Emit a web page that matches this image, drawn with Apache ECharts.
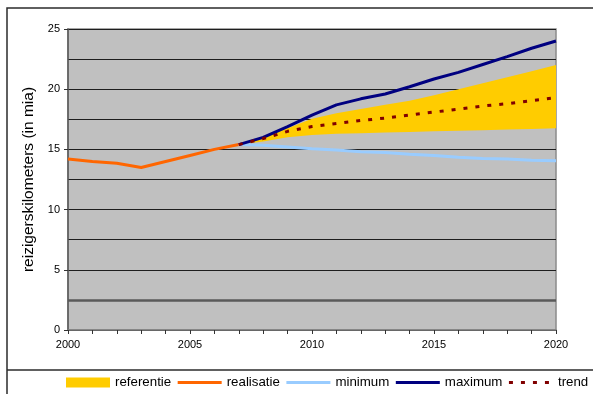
<!DOCTYPE html>
<html>
<head>
<meta charset="utf-8">
<script src="https://cdn.jsdelivr.net/npm/echarts@6/dist/echarts.min.js"></script>
<style>
html,body{margin:0;padding:0;background:#fff;}
#chart{width:593px;height:394px;}
</style>
</head>
<body>
<div id="chart"></div>
<script>
var years = ['2000','2001','2002','2003','2004','2005','2006','2007','2008','2009','2010','2011','2012','2013','2014','2015','2016','2017','2018','2019','2020'];
var realisatie = [14.2, 14.0, 13.85, 13.5, 14.0, 14.5, 15.0, 15.4, null, null, null, null, null, null, null, null, null, null, null, null, null];
var minimum = [null, null, null, null, null, null, null, 15.4, 15.35, 15.2, 15.05, 14.95, 14.8, 14.75, 14.6, 14.5, 14.35, 14.25, 14.2, 14.1, 14.05];
var maximum = [null, null, null, null, null, null, null, 15.4, 16.0, 16.9, 17.85, 18.7, 19.2, 19.6, 20.2, 20.85, 21.4, 22.05, 22.7, 23.4, 24.0];
var trend = [null, null, null, null, null, null, null, 15.4, 15.9, 16.5, 16.9, 17.15, 17.4, 17.6, 17.85, 18.1, 18.35, 18.6, 18.8, 19.05, 19.3];
var refLow = [null, null, null, null, null, null, null, 15.4, 15.65, 16.0, 16.2, 16.3, 16.35, 16.4, 16.45, 16.5, 16.55, 16.6, 16.65, 16.7, 16.75];
var refHigh = [null, null, null, null, null, null, null, 15.4, 16.05, 16.75, 17.55, 18.0, 18.35, 18.7, 19.05, 19.5, 20.0, 20.5, 21.0, 21.5, 22.0];
var yTicks = [0, 5, 10, 15, 20, 25];
var emphasisLines = [2.5];
var legendNames = ['referentie', 'realisatie', 'minimum', 'maximum', 'trend'];
var yTitle = 'reizigerskilometers (in mia)';

var refBand = refHigh.map(function (v, i) { return (v == null || refLow[i] == null) ? null : +(v - refLow[i]).toFixed(3); });

var FONT = '"Liberation Sans", Arial, sans-serif';
var chart = echarts.init(document.getElementById('chart'), null, {renderer: 'canvas'});

function lineLegend(name) { return {name: name, itemStyle: {opacity: 0}}; }

var option = {
  animation: false,
  backgroundColor: '#ffffff',
  textStyle: {fontFamily: FONT, color: '#000'},
  graphic: [
    {type: 'rect', shape: {x: 7, y: 8, width: 700, height: 500}, style: {fill: 'none', stroke: '#2b2b2b', lineWidth: 1.5}, z: 100, silent: true},
    {type: 'line', shape: {x1: 7, y1: 370, x2: 700, y2: 370}, style: {stroke: '#2b2b2b', lineWidth: 1.5}, z: 100, silent: true}
  ],
  grid: {
    left: 68, right: 37, top: 29, bottom: 64,
    show: true, backgroundColor: '#C0C0C0', borderColor: '#8a8a8a', borderWidth: 1.5
  },
  legend: {
    left: 61, top: 371, width: 560,
    itemWidth: 44, itemHeight: 10, itemGap: 5,
    lineStyle: {width: 3},
    textStyle: {fontFamily: FONT, fontSize: 13.3, color: '#000'},
    data: [
      {name: legendNames[0], icon: 'rect', itemStyle: {color: '#FFCC00', opacity: 1}},
      lineLegend(legendNames[1]), lineLegend(legendNames[2]), lineLegend(legendNames[3]), lineLegend(legendNames[4])
    ]
  },
  xAxis: {
    type: 'category',
    data: years,
    boundaryGap: false,
    axisLine: {show: true, lineStyle: {color: '#808080', width: 1.5}},
    axisTick: {show: true, length: 4, interval: 0, lineStyle: {color: '#333'}},
    axisLabel: {interval: 4, margin: 9, fontSize: 11, color: '#000', fontFamily: FONT},
    splitLine: {show: false}
  },
  yAxis: {
    type: 'value',
    min: yTicks[0], max: yTicks[yTicks.length - 1], interval: yTicks[1] - yTicks[0],
    name: yTitle, nameLocation: 'middle', nameRotate: 90, nameGap: 29,
    nameTextStyle: {fontSize: 15.5, color: '#000', fontFamily: FONT},
    axisLine: {show: true, lineStyle: {color: '#5a5a5a', width: 1.5}},
    axisTick: {show: true, length: 4, lineStyle: {color: '#333'}},
    axisLabel: {margin: 8, fontSize: 11, color: '#000', fontFamily: FONT},
    splitLine: {show: true, lineStyle: {color: '#1e1e1e', width: 1}},
    minorTick: {show: false, splitNumber: 2},
    minorSplitLine: {show: true, lineStyle: {color: '#1e1e1e', width: 1}}
  },
  series: [
    {
      name: 'refBase', type: 'line', stack: 'ref', data: refLow,
      symbol: 'none', lineStyle: {opacity: 0, width: 0}, silent: true, z: 1,
      markLine: {
        silent: true, symbol: 'none', label: {show: false},
        lineStyle: {color: '#5a5a5a', width: 2.5, type: 'solid'},
        data: emphasisLines.map(function (v) { return {yAxis: v}; })
      }
    },
    {
      name: legendNames[0], type: 'line', stack: 'ref', data: refBand,
      symbol: 'none', lineStyle: {opacity: 0, width: 0}, itemStyle: {color: '#FFCC00'},
      areaStyle: {color: '#FFCC00', opacity: 1}, z: 2
    },
    {
      name: legendNames[1], type: 'line', data: realisatie, symbol: 'none',
      lineStyle: {color: '#FF6600', width: 3}, itemStyle: {color: '#FF6600'}, z: 3
    },
    {
      name: legendNames[2], type: 'line', data: minimum, symbol: 'none',
      lineStyle: {color: '#99CCFF', width: 3}, itemStyle: {color: '#99CCFF'}, z: 4
    },
    {
      name: legendNames[3], type: 'line', data: maximum, symbol: 'none',
      lineStyle: {color: '#000080', width: 3}, itemStyle: {color: '#000080'}, z: 5
    },
    {
      name: legendNames[4], type: 'line', data: trend, symbol: 'none',
      lineStyle: {color: '#800000', width: 3, type: [4, 8]}, itemStyle: {color: '#800000'}, z: 6
    }
  ]
};
chart.setOption(option);
</script>
</body>
</html>
